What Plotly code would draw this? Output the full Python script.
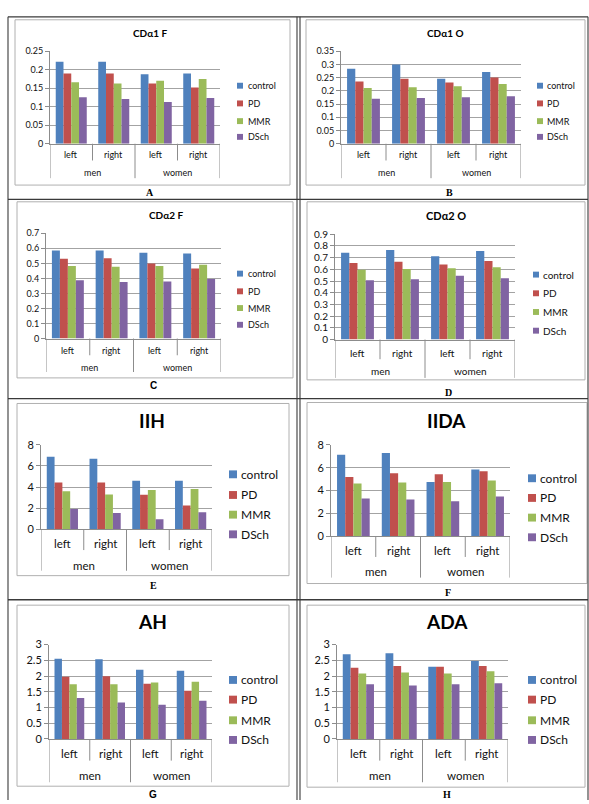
import plotly.graph_objects as go

W, H = 589, 804

# ---- data -------------------------------------------------------------
series = ["control", "PD", "MMR", "DSch"]
colors = ["#4F81BD", "#C0504D", "#9BBB59", "#8064A2"]
categories = ["men left", "men right", "women left", "women right"]
side_labels = ["left", "right", "left", "right"]
sex_labels = ["men", "women"]

# rows: control, PD, MMR, DSch ; columns follow `categories`
cda1_f = [[0.222, 0.222, 0.188, 0.190],
          [0.190, 0.190, 0.163, 0.152],
          [0.166, 0.163, 0.170, 0.175],
          [0.126, 0.121, 0.113, 0.124]]
cda1_o = [[0.284, 0.300, 0.246, 0.272],
          [0.236, 0.246, 0.232, 0.251],
          [0.211, 0.214, 0.218, 0.226],
          [0.170, 0.173, 0.176, 0.180]]
cda2_f = [[0.586, 0.586, 0.571, 0.565],
          [0.530, 0.534, 0.499, 0.466],
          [0.483, 0.477, 0.483, 0.490],
          [0.387, 0.376, 0.380, 0.396]]
cda2_o = [[0.742, 0.765, 0.711, 0.756],
          [0.655, 0.664, 0.641, 0.672],
          [0.596, 0.602, 0.610, 0.619],
          [0.506, 0.515, 0.546, 0.523]]
iih = [[6.88, 6.69, 4.60, 4.60],
       [4.44, 4.44, 3.28, 2.25],
       [3.60, 3.31, 3.72, 3.81],
       [1.94, 1.56, 0.97, 1.63]]
iida = [[7.13, 7.28, 4.75, 5.83],
        [5.19, 5.51, 5.42, 5.68],
        [4.61, 4.70, 4.75, 4.87],
        [3.30, 3.22, 3.07, 3.48]]
ah = [[2.55, 2.53, 2.20, 2.17],
      [1.98, 1.99, 1.75, 1.53],
      [1.74, 1.74, 1.79, 1.82],
      [1.30, 1.16, 1.09, 1.21]]
ada = [[2.69, 2.72, 2.29, 2.48],
       [2.26, 2.32, 2.29, 2.32],
       [2.08, 2.11, 2.08, 2.15],
       [1.74, 1.70, 1.74, 1.77]]

titles = ["CDα1 F", "CDα1 O", "CDα2 F", "CDα2 O", "IIH", "IIDA", "AH", "ADA"]
letters = ["A", "B", "C", "D", "E", "F", "G", "H"]
y_max = [0.25, 0.35, 0.7, 0.9, 8, 8, 3, 3]
y_step = [0.05, 0.05, 0.1, 0.1, 2, 2, 0.5, 0.5]
panel_data = [cda1_f, cda1_o, cda2_f, cda2_o, iih, iida, ah, ada]

# ---- layout geometry (pixels) -----------------------------------------
# plot: x0, x1, y_top, y_zero ; frame: x0, y0, x1, y1
panels = [
    dict(plot=(50, 220, 45, 139), frame=(15, 13, 290, 181), title=(150, 26, 10),
         leg=(240, 247, [80, 98, 116, 132], 6, 9), cat=(11, 17, 29, 35, 9),
         tick=9, letter=(150, 189, "Liberation Serif")),
    dict(plot=(341, 521, 45, 139), frame=(306, 13, 585, 181), title=(445, 26, 10),
         leg=(540, 546, [80, 98, 116, 132], 6, 9), cat=(11, 17, 29, 35, 9),
         tick=9, letter=(449, 189, "Liberation Serif")),
    dict(plot=(46, 221, 230, 337), frame=(17, 198, 293, 377), title=(166, 211, 10),
         leg=(240, 247, [271, 289, 306, 323], 6, 9), cat=(12, 17, 29, 34, 9),
         tick=9, letter=(153, 385, "Liberation Sans")),
    dict(plot=(335, 515, 231, 338), frame=(307, 198, 585, 379), title=(446, 212, 11),
         leg=(536, 542, [272, 291, 310, 329], 6, 10), cat=(13, 20, 31, 39, 10),
         tick=10, letter=(448, 392, "Liberation Serif")),
    dict(plot=(41, 212, 445, 531), frame=(17, 403, 289, 578), title=(152, 420, 19),
         leg=(233, 240, [475, 496, 516, 536], 8, 12), cat=(14, 21, 36, 42, 11.5),
         tick=11, letter=(153, 588, "Liberation Serif")),
    dict(plot=(331, 510, 445, 538), frame=(307, 402, 587, 586), title=(447, 420, 19),
         leg=(532, 539, [479, 499, 519, 539], 8, 12), cat=(14, 21, 35, 42, 11.5),
         tick=11, letter=(448, 595, "Liberation Serif")),
    dict(plot=(49, 212, 648, 744), frame=(17, 608, 289, 792), title=(152, 625, 19),
         leg=(233, 240, [684, 704, 725, 745], 8, 12), cat=(15, 22, 37, 44, 11.5),
         tick=11, letter=(153, 800, "Liberation Sans")),
    dict(plot=(337, 508, 648, 744), frame=(307, 608, 585, 793), title=(447, 625, 19),
         leg=(532, 539, [684, 704, 725, 745], 8, 12), cat=(15, 22, 37, 44, 11.5),
         tick=11, letter=(447, 800, "Liberation Serif")),
]

FONT = "Lato"
AXIS = "#8c8c8c"
GRID = "#a3a3a3"
FRAME = "#b0b0b0"
TABLE = "#3a3a3a"


def px(x):
    return x / W


def py(y):
    return 1 - y / H


fig = go.Figure()
shapes, annotations, axes = [], [], {}

for i, (p, vals) in enumerate(zip(panels, panel_data)):
    n = i + 1
    xa = "x" if n == 1 else f"x{n}"
    ya = "y" if n == 1 else f"y{n}"
    xkey = "xaxis" if n == 1 else f"xaxis{n}"
    ykey = "yaxis" if n == 1 else f"yaxis{n}"

    for s, name in enumerate(series):
        fig.add_trace(go.Bar(x=categories, y=vals[s], name=name,
                             marker=dict(color=colors[s], line=dict(width=0)),
                             xaxis=xa, yaxis=ya, showlegend=False,
                             hoverinfo="x+y+name"))

    x0, x1, yt, yz = p["plot"]
    axes[xkey] = dict(domain=[px(x0), px(x1)], anchor=ya, type="category",
                      categoryorder="array", categoryarray=categories,
                      range=[-0.5, 3.5], showticklabels=False, showgrid=False,
                      showline=True, linecolor=AXIS, linewidth=1, ticks="",
                      zeroline=False, fixedrange=True)
    axes[ykey] = dict(domain=[py(yz), py(yt)], anchor=xa, range=[0, y_max[i]],
                      tick0=0, dtick=y_step[i], showgrid=True, gridcolor=GRID,
                      gridwidth=1, showline=True, linecolor=AXIS, linewidth=1,
                      ticks="outside", ticklen=4, tickcolor=AXIS,
                      tickfont=dict(family=FONT, size=p["tick"], color="#111"),
                      zeroline=False, fixedrange=True)

    # category axis: two label rows with separators hanging below the axis
    o1, oin, o2, oout, cfs = p["cat"]
    for k in range(5):
        length = oout if k % 2 == 0 else oin
        shapes.append(dict(type="line", xref=xa, yref="paper",
                           x0=k - 0.5, x1=k - 0.5, y0=py(yz), y1=py(yz + length),
                           line=dict(color=AXIS, width=1)))
    for j, lab in enumerate(side_labels):
        annotations.append(dict(x=categories[j], y=0, xref=xa, yref=f"{ya} domain",
                                yshift=-o1, yanchor="middle", showarrow=False,
                                text=lab, font=dict(family=FONT, size=cfs, color="#111")))
    for g, lab in enumerate(sex_labels):
        annotations.append(dict(x=0.5 + 2 * g, y=0, xref=xa, yref=f"{ya} domain",
                                yshift=-o2, yanchor="middle", showarrow=False,
                                text=lab, font=dict(family=FONT, size=cfs, color="#111")))

    # chart frame
    fx0, fy0, fx1, fy1 = p["frame"]
    shapes.append(dict(type="rect", xref="paper", yref="paper",
                       x0=px(fx0), x1=px(fx1), y0=py(fy1), y1=py(fy0),
                       line=dict(color=FRAME, width=1), layer="below"))

    # chart title
    tx, ty, tfs = p["title"]
    annotations.append(dict(x=px(tx), y=py(ty), xref="paper", yref="paper",
                            xanchor="center", yanchor="middle", showarrow=False,
                            text=f"<b>{titles[i]}</b>",
                            font=dict(family=FONT, size=tfs, color="#000")))

    # legend
    mx, lx, lys, ms, lfs = p["leg"]
    for s, name in enumerate(series):
        cy = lys[s]
        shapes.append(dict(type="rect", xref="paper", yref="paper",
                           x0=px(mx - ms / 2), x1=px(mx + ms / 2),
                           y0=py(cy + ms / 2), y1=py(cy - ms / 2),
                           fillcolor=colors[s], line=dict(width=0)))
        annotations.append(dict(x=px(lx), y=py(cy), xref="paper", yref="paper",
                                xanchor="left", yanchor="middle", showarrow=False,
                                text=name, borderpad=0,
                                font=dict(family=FONT, size=lfs, color="#111")))

    # panel letter
    lx_, ly_, lfam = p["letter"]
    annotations.append(dict(x=px(lx_), y=py(ly_), xref="paper", yref="paper",
                            xanchor="center", yanchor="middle", showarrow=False,
                            text=f"<b>{letters[i]}</b>",
                            font=dict(family=lfam, size=10, color="#000")))

# surrounding table rules
for y in (10, 195.5, 398, 602.5):
    shapes.append(dict(type="line", xref="paper", yref="paper",
                       x0=px(8), x1=px(588), y0=py(y), y1=py(y),
                       line=dict(color=TABLE, width=1.3)))
for x in (8, 297, 300, 588):
    shapes.append(dict(type="line", xref="paper", yref="paper",
                       x0=px(x), x1=px(x), y0=py(10), y1=py(H + 2),
                       line=dict(color=TABLE, width=1.1)))

fig.update_layout(width=W, height=H, margin=dict(l=0, r=0, t=0, b=0),
                  paper_bgcolor="white", plot_bgcolor="white",
                  barmode="group", bargap=0.27, bargroupgap=0,
                  shapes=shapes, annotations=annotations, showlegend=False,
                  **axes)

fig.write_html("out.html")
